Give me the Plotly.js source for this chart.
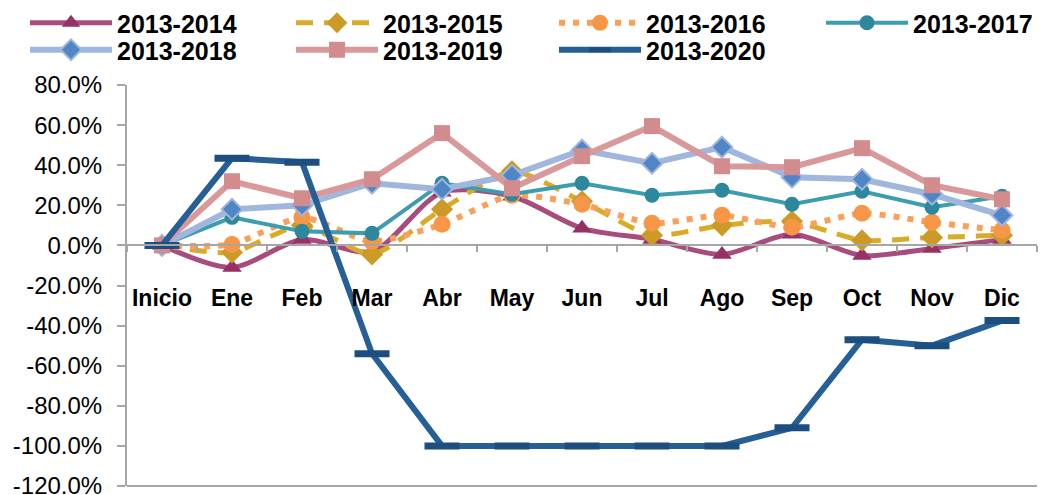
<!DOCTYPE html>
<html>
<head>
<meta charset="utf-8">
<script src="https://cdn.plot.ly/plotly-3.0.1.min.js"></script>
<style>html,body{margin:0;padding:0;background:#fff;}#chart{width:1042px;height:495px;}</style>
</head>
<body>
<div id="chart"></div>
<script>
const categories = ['Inicio','Ene','Feb','Mar','Abr','May','Jun','Jul','Ago','Sep','Oct','Nov','Dic'];
const seriesNames = ['2013-2014','2013-2015','2013-2016','2013-2017','2013-2018','2013-2019','2013-2020'];
const s2014 = [0, -11, 3, -3, 26.5, 24.5, 8.5, 3, -4.5, 5.5, -5, -1.5, 3];
const s2015 = [0, -3.5, 10, -4.5, 18, 37, 22, 5, 10, 12, 2.5, 4, 5];
const s2016 = [0, 0.5, 14, 2, 10.5, 25, 20.5, 11, 15, 9, 16, 11.5, 7.5];
const s2017 = [0, 14, 7, 6, 31, 25.5, 31, 25, 27.5, 20.5, 27, 19, 24.5];
const s2018 = [0, 18, 20, 31, 28, 35, 47.5, 41, 49, 34, 33, 25.5, 15];
const s2019 = [0, 32, 23.5, 33, 56, 28.5, 44.5, 59.5, 39.5, 39, 48.5, 30, 23];
const s2020 = [0, 43.5, 41.5, -54, -100, -100, -100, -100, -100, -91, -47, -50, -37.5];
const yTickVals = [80, 60, 40, 20, 0, -20, -40, -60, -80, -100, -120];
const yTickText = ['80.0%','60.0%','40.0%','20.0%','0.0%','-20.0%','-40.0%','-60.0%','-80.0%','-100.0%','-120.0%'];

const F = '"Liberation Sans", Arial, sans-serif';
const W = 1042, H = 495;

const traces = [
  {name: seriesNames[0], y: s2014, line: {color: '#A84C7E', width: 5, shape: 'spline', smoothing: 0.8},
   marker: {symbol: 'triangle-up', size: 17, color: '#963065'}},
  {name: seriesNames[1], y: s2015, line: {color: '#D9AB27', width: 5, dash: '17px,11px', shape: 'spline', smoothing: 0.6},
   marker: {symbol: 'diamond', size: 17, color: '#CC9B27'}},
  {name: seriesNames[2], y: s2016, line: {color: '#F9A05A', width: 6, dash: '6px,8px', shape: 'spline', smoothing: 0.6},
   marker: {symbol: 'circle', size: 17, color: '#F79646'}},
  {name: seriesNames[3], y: s2017, line: {color: '#3C9DAE', width: 4},
   marker: {symbol: 'circle', size: 15, color: '#2E889D'}},
  {name: seriesNames[4], y: s2018, line: {color: '#A0B6DC', width: 6},
   marker: {symbol: 'diamond', size: 16, color: '#4F86C6', line: {color: '#A0B6DC', width: 2}}},
  {name: seriesNames[5], y: s2019, line: {color: '#D9999A', width: 6},
   marker: {symbol: 'square', size: 16, color: '#D28C8E'}},
  {name: seriesNames[6], y: s2020, line: {color: '#255F95', width: 6},
   marker: {symbol: 'line-ew', size: 25, color: '#1D4E80', line: {color: '#1D4E80', width: 7}}}
].map((t, i) => Object.assign({type: 'scatter', mode: 'lines+markers', x: categories,
  legend: i === 0 ? 'legend' : 'legend' + (i + 1)}, t));

// legend slot positions (pixels): column starts and row centres
const legendX = [25, 291, 554, 821, 25, 291, 554];
const legendY = [23, 23, 23, 23, 50, 50, 50];

const layout = {
  width: W, height: H,
  margin: {l: 127, r: 5, t: 85, b: 9, autoexpand: false},
  paper_bgcolor: '#fff', plot_bgcolor: '#fff',
  font: {family: F, color: '#000'},
  showlegend: true,
  xaxis: {
    type: 'category', range: [-0.5, 12.5], anchor: 'free', position: 0.6,
    showline: true, linecolor: '#A6A6A6', linewidth: 2,
    ticks: 'outside', ticklen: 6, tickcolor: '#A6A6A6', tickwidth: 2, tickson: 'boundaries',
    tickangle: 0, ticklabelstandoff: 32,
    tickfont: {family: F, size: 23, color: '#000', weight: 'bold'},
    showgrid: false, zeroline: false, fixedrange: true
  },
  yaxis: {
    range: [-120, 80], tickvals: yTickVals, ticktext: yTickText,
    showline: true, linecolor: '#A6A6A6', linewidth: 2,
    ticks: 'outside', ticklen: 8, tickcolor: '#A6A6A6', tickwidth: 2,
    ticklabelstandoff: 10, ticklabeloverflow: 'allow',
    tickfont: {family: F, size: 24, color: '#000'},
    showgrid: false, zeroline: false, fixedrange: true
  },
  shapes: [
    {type: 'line', xref: 'paper', yref: 'paper', x0: 0, x1: 1, y0: 0, y1: 0, line: {color: '#A6A6A6', width: 2}, layer: 'below'}
  ]
};
for (let i = 0; i < 7; i++) {
  layout[i === 0 ? 'legend' : 'legend' + (i + 1)] = {
    xref: 'container', yref: 'container', x: legendX[i] / W, y: 1 - legendY[i] / H,
    xanchor: 'left', yanchor: 'middle', itemwidth: 82,
    font: {family: F, size: 25, color: '#000', weight: 'bold'},
    bgcolor: 'rgba(0,0,0,0)', borderwidth: 0
  };
}

Plotly.newPlot('chart', traces, layout, {staticPlot: true, displayModeBar: false});
</script>
</body>
</html>
